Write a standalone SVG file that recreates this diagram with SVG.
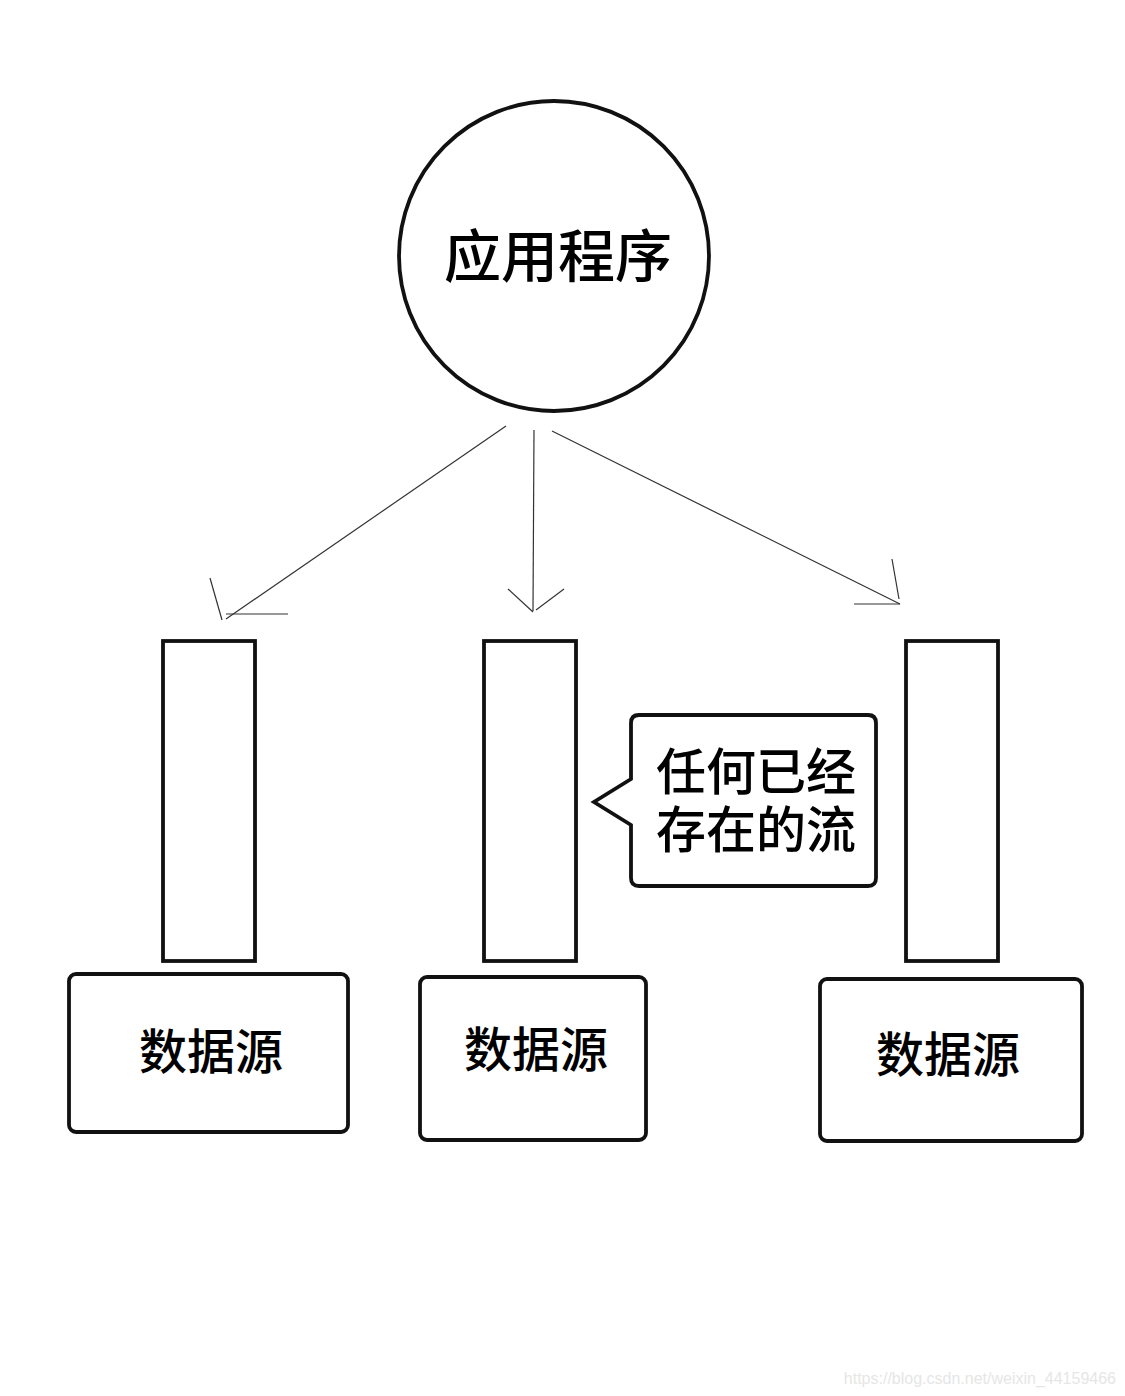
<svg xmlns="http://www.w3.org/2000/svg" width="1125" height="1396" viewBox="0 0 1125 1396">
<style>
.shape{fill:#fff;stroke:#111;stroke-width:3.8}
.conn{stroke:#333;stroke-width:1.2;fill:none}
.t{font-family:"Noto Sans CJK SC","Noto Sans",sans-serif;font-weight:500;fill:#000}
.wm{font-family:"Liberation Sans",Arial,sans-serif;font-size:16px;fill:#e6e6e6}
</style>
<rect width="1125" height="1396" fill="#fff"/>
<g id="app">
<circle class="shape" cx="554" cy="256" r="155"/>
<text class="t" x="558" y="277" font-size="57" text-anchor="middle">应用程序</text>
</g>
<g id="connectors">
<line class="conn" x1="506" y1="426" x2="226" y2="619"/>
<line class="conn" x1="210" y1="578" x2="222" y2="620"/>
<line class="conn" x1="226" y1="614" x2="288" y2="614"/>
<line class="conn" x1="534" y1="430" x2="533" y2="611"/>
<line class="conn" x1="508" y1="589" x2="533" y2="612"/>
<line class="conn" x1="564" y1="589" x2="536" y2="610"/>
<line class="conn" x1="552" y1="431" x2="900" y2="604"/>
<line class="conn" x1="892" y1="559" x2="899" y2="599"/>
<line class="conn" x1="854" y1="604" x2="900" y2="604"/>
</g>
<g id="stream-left"><rect class="shape" x="163" y="641" width="92" height="320"/></g>
<g id="stream-middle"><rect class="shape" x="484" y="641" width="92" height="320"/></g>
<g id="stream-right"><rect class="shape" x="906" y="641" width="92" height="320"/></g>
<g id="source-left">
<rect class="shape" x="69" y="974" width="279" height="158" rx="7"/>
<text class="t" x="211" y="1069" font-size="48" text-anchor="middle">数据源</text>
</g>
<g id="source-middle">
<rect class="shape" x="420" y="977" width="226" height="163" rx="7"/>
<text class="t" x="536" y="1067" font-size="48" text-anchor="middle">数据源</text>
</g>
<g id="source-right">
<rect class="shape" x="820" y="979" width="262" height="162" rx="7"/>
<text class="t" x="948" y="1072" font-size="48" text-anchor="middle">数据源</text>
</g>
<g id="callout">
<path class="shape" d="M639,715 H868 Q876,715 876,723 V878 Q876,886 868,886 H639 Q631,886 631,878 V825 L594,802 L631,779 V723 Q631,715 639,715 Z"/>
<text class="t" x="756" y="790" font-size="50" text-anchor="middle">任何已经</text>
<text class="t" x="756" y="848" font-size="50" text-anchor="middle">存在的流</text>
</g>
<text class="wm" x="1116" y="1384" text-anchor="end">https://blog.csdn.net/weixin_44159466</text>
</svg>
